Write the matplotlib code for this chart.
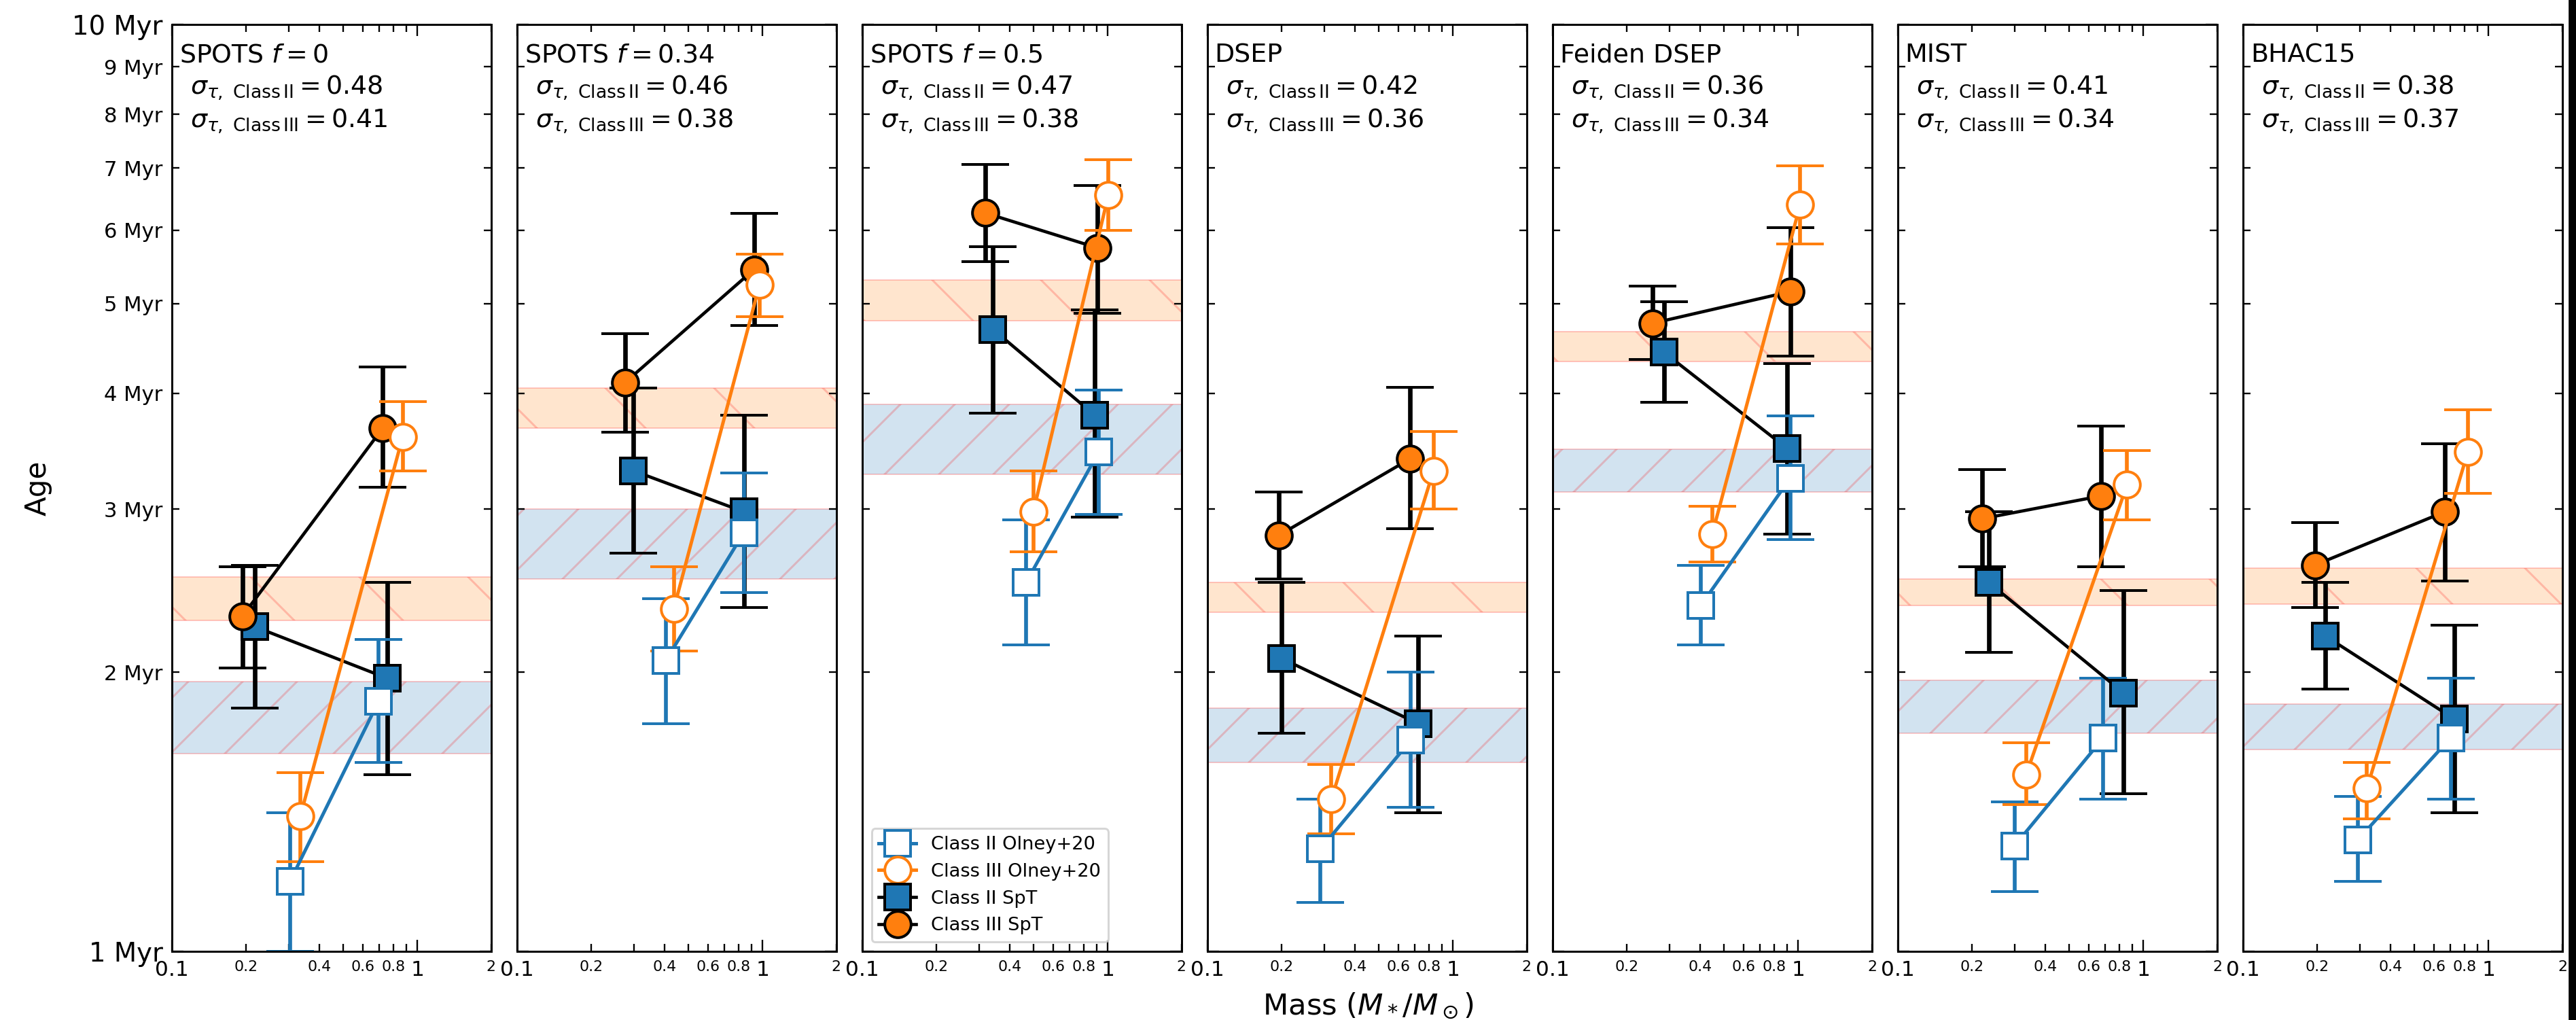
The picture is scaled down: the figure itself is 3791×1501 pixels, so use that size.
import numpy as np
import matplotlib
matplotlib.use('Agg')
import matplotlib.pyplot as plt
from matplotlib.ticker import FixedLocator, FixedFormatter
from matplotlib.patches import Rectangle

# Panels: one per model grid
models = ['SPOTS $f=0$', 'SPOTS $f=0.34$', 'SPOTS $f=0.5$', 'DSEP',
          'Feiden DSEP', 'MIST', 'BHAC15']
sigma_II = ['0.48', '0.46', '0.47', '0.42', '0.36', '0.41', '0.38']
sigma_III = ['0.41', '0.38', '0.38', '0.36', '0.34', '0.34', '0.37']
series_labels = ['Class II Olney+20', 'Class III Olney+20', 'Class II SpT', 'Class III SpT']

# Class II, ages from SpT (Myr) - two mass bins per panel
mass_II_spt = [[0.218, 0.757], [0.298, 0.840], [0.341, 0.884], [0.201, 0.724],
               [0.284, 0.900], [0.235, 0.832], [0.216, 0.728]]
age_II_spt = [[2.24, 1.97], [3.30, 2.98], [4.69, 3.79], [2.07, 1.76],
              [4.43, 3.49], [2.50, 1.90], [2.19, 1.78]]
lo_II_spt = [[1.83, 1.55], [2.69, 2.35], [3.81, 2.94], [1.72, 1.41],
             [3.91, 2.82], [2.10, 1.48], [1.92, 1.41]]
hi_II_spt = [[2.61, 2.50], [4.05, 3.79], [5.76, 4.92], [2.50, 2.19],
             [5.02, 4.31], [2.98, 2.45], [2.50, 2.25]]

# Class III, ages from SpT
mass_III_spt = [[0.194, 0.724], [0.276, 0.923], [0.318, 0.910], [0.195, 0.670],
                [0.255, 0.930], [0.221, 0.674], [0.196, 0.663]]
age_III_spt = [[2.30, 3.67], [4.11, 5.44], [6.26, 5.74], [2.81, 3.40],
               [4.76, 5.15], [2.93, 3.10], [2.61, 2.98]]
lo_III_spt = [[2.02, 3.17], [3.63, 4.73], [5.55, 4.88], [2.52, 2.86],
              [4.35, 4.39], [2.60, 2.60], [2.35, 2.51]]
hi_III_spt = [[2.60, 4.27], [4.64, 6.25], [7.06, 6.70], [3.13, 4.06],
              [5.22, 6.04], [3.31, 3.69], [2.90, 3.53]]

# Class II, Olney+20 temperatures
mass_II_ol = [[0.303, 0.695], [0.404, 0.840], [0.465, 0.921], [0.289, 0.675],
              [0.401, 0.930], [0.299, 0.688], [0.294, 0.702]]
age_II_ol = [[1.19, 1.86], [2.06, 2.83], [2.50, 3.46], [1.29, 1.69],
             [2.36, 3.24], [1.30, 1.70], [1.32, 1.70]]
lo_II_ol = [[1.00, 1.60], [1.76, 2.44], [2.14, 2.96], [1.13, 1.43],
            [2.14, 2.78], [1.16, 1.46], [1.19, 1.46]]
hi_II_ol = [[1.41, 2.17], [2.40, 3.28], [2.92, 4.03], [1.46, 2.00],
            [2.61, 3.78], [1.45, 1.97], [1.47, 1.97]]

# Class III, Olney+20 temperatures
mass_III_ol = [[0.334, 0.872], [0.435, 0.973], [0.498, 1.007], [0.320, 0.834],
               [0.447, 1.020], [0.333, 0.860], [0.320, 0.825]]
age_III_ol = [[1.40, 3.59], [2.34, 5.24], [2.98, 6.55], [1.46, 3.30],
              [2.82, 6.39], [1.55, 3.19], [1.50, 3.46]]
lo_III_ol = [[1.25, 3.30], [2.11, 4.84], [2.70, 6.00], [1.34, 3.00],
             [2.63, 5.80], [1.44, 2.92], [1.39, 3.12]]
hi_III_ol = [[1.56, 3.92], [2.60, 5.65], [3.30, 7.15], [1.59, 3.64],
             [3.02, 7.04], [1.68, 3.47], [1.60, 3.84]]

# median age bands (Myr)
band_III_lo = [2.275, 3.67, 4.79, 2.32, 4.33, 2.36, 2.37]
band_III_hi = [2.535, 4.05, 5.30, 2.50, 4.66, 2.52, 2.59]
band_II_lo = [1.634, 2.52, 3.27, 1.60, 3.13, 1.72, 1.65]
band_II_hi = [1.953, 3.00, 3.89, 1.83, 3.48, 1.96, 1.85]

x_major = [0.1, 1]
x_minor = [0.2, 0.3, 0.4, 0.5, 0.6, 0.7, 0.8, 0.9, 2]
x_minor_labels = ['0.2', '', '0.4', '', '0.6', '', '0.8', '', '2']
y_major = [1, 10]
y_minor = [2, 3, 4, 5, 6, 7, 8, 9]

plt.rcParams['hatch.linewidth'] = 0.45

fig, axes = plt.subplots(1, 7, sharey=True, figsize=(3791 / 480, 1501 / 480), dpi=480)
fig.subplots_adjust(left=0.0667, right=0.9947, bottom=0.0673, top=0.976, wspace=0.081)

cap = 5.2
ms = 5.8
handles = []
for i, ax in enumerate(axes):
    ax.axhspan(band_III_lo[i], band_III_hi[i], facecolor='C1', edgecolor='red',
               alpha=0.2, hatch='\\', lw=0.3)
    ax.axhspan(band_II_lo[i], band_II_hi[i], facecolor='C0', edgecolor='red',
               alpha=0.2, hatch='//', lw=0.3)

    def yerr(age, lo, hi):
        a = np.array(age[i]); return [a - np.array(lo[i]), np.array(hi[i]) - a]

    h3 = ax.errorbar(mass_II_spt[i], age_II_spt[i], yerr=yerr(age_II_spt, lo_II_spt, hi_II_spt),
                     fmt='s-', color='k', mfc='C0', mec='k', ms=ms, mew=0.6, lw=0.7,
                     elinewidth=1.0, capsize=cap, capthick=0.7)
    h4 = ax.errorbar(mass_III_spt[i], age_III_spt[i], yerr=yerr(age_III_spt, lo_III_spt, hi_III_spt),
                     fmt='o-', color='k', mfc='C1', mec='k', ms=ms, mew=0.6, lw=0.7,
                     elinewidth=1.0, capsize=cap, capthick=0.7)
    h1 = ax.errorbar(mass_II_ol[i], age_II_ol[i], yerr=yerr(age_II_ol, lo_II_ol, hi_II_ol),
                     fmt='s-', color='C0', mfc='white', mec='C0', ms=ms, mew=0.6, lw=0.75,
                     elinewidth=0.85, capsize=cap, capthick=0.6)
    h2 = ax.errorbar(mass_III_ol[i], age_III_ol[i], yerr=yerr(age_III_ol, lo_III_ol, hi_III_ol),
                     fmt='o-', color='C1', mfc='white', mec='C1', ms=ms, mew=0.6, lw=0.75,
                     elinewidth=0.85, capsize=cap, capthick=0.6)
    handles = [h1[0], h2[0], h3[0], h4[0]]

    ax.set_xscale('log')
    ax.set_yscale('log')
    ax.set_xlim(0.1, 2)
    ax.set_ylim(1, 10)

    ax.xaxis.set_major_locator(FixedLocator(x_major))
    ax.xaxis.set_major_formatter(FixedFormatter(['0.1', '1']))
    ax.xaxis.set_minor_locator(FixedLocator(x_minor))
    ax.xaxis.set_minor_formatter(FixedFormatter(x_minor_labels))
    ax.yaxis.set_major_locator(FixedLocator(y_major))
    ax.yaxis.set_major_formatter(FixedFormatter(['%d Myr' % v for v in y_major]))
    ax.yaxis.set_minor_locator(FixedLocator(y_minor))
    ax.yaxis.set_minor_formatter(FixedFormatter(['%d Myr' % v for v in y_minor]))

    ax.tick_params(which='both', direction='in', top=True, right=True, width=0.35, pad=2)
    ax.tick_params(which='major', length=2.5)
    ax.tick_params(which='minor', length=1.6)
    ax.tick_params(axis='x', which='major', labelsize=4.7)
    ax.tick_params(axis='x', which='minor', labelsize=3.3)
    ax.tick_params(axis='y', which='major', labelsize=5.8)
    ax.tick_params(axis='y', which='minor', labelsize=4.6)
    for s in ax.spines.values():
        s.set_linewidth(0.45)

    ax.text(0.023, 0.959, models[i], transform=ax.transAxes, fontsize=5.7, va='baseline')
    ax.text(0.058, 0.925, r'$\sigma_{\tau,\ \mathrm{Class\,II}} = %s$' % sigma_II[i],
            transform=ax.transAxes, fontsize=5.7, va='baseline')
    ax.text(0.058, 0.8886, r'$\sigma_{\tau,\ \mathrm{Class\,III}} = %s$' % sigma_III[i],
            transform=ax.transAxes, fontsize=5.7, va='baseline')

leg = axes[2].legend(handles, series_labels, loc='lower left', fontsize=4.1)
leg.get_frame().set_linewidth(0.45)

fig.text(56 / 3791, 0.5217, 'Age', rotation=90, ha='center', va='center', fontsize=6.3)
fig.text(2014 / 3791, 0.0053, r'Mass ($M_*/M_\odot$)', ha='center', va='baseline', fontsize=6.5)

# dark border at the right edge of the frame
fig.patches.append(Rectangle((3783 / 3791, 0), 8 / 3791, 1, transform=fig.transFigure,
                             color='k', zorder=10))

fig.savefig('out.png', dpi=480)
